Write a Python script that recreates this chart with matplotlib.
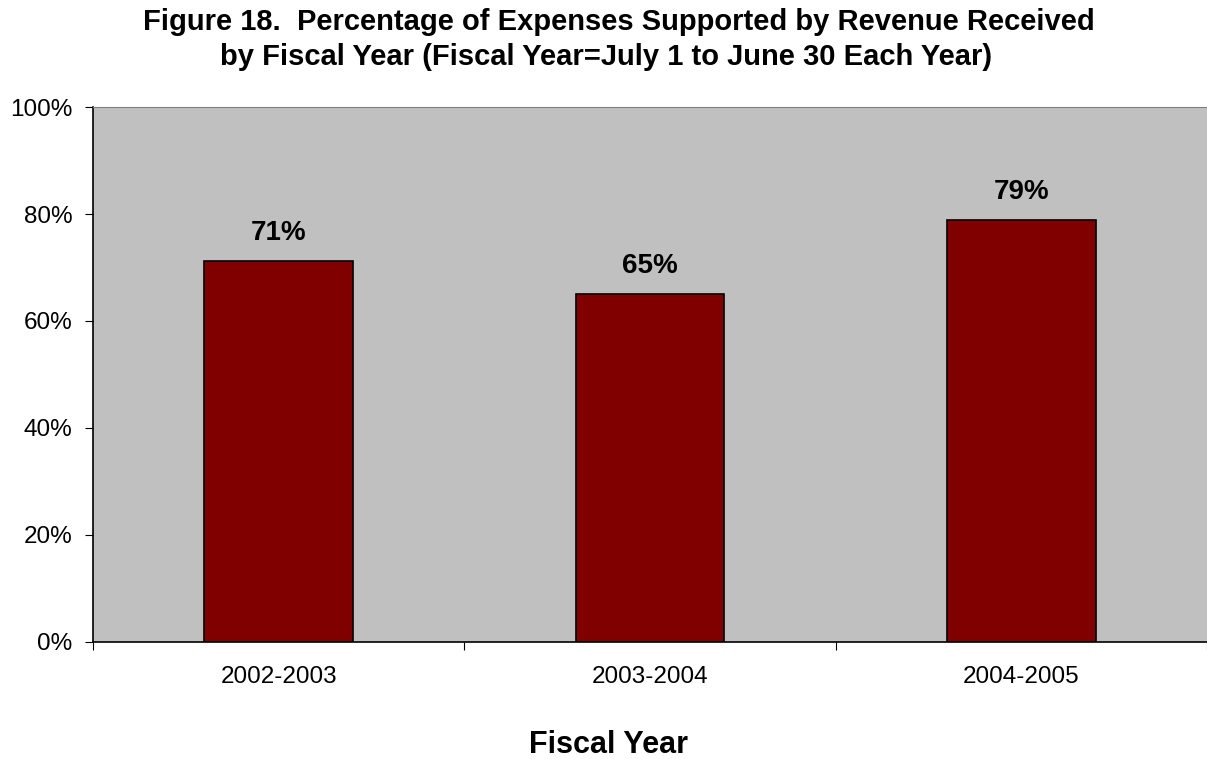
import matplotlib.pyplot as plt
from matplotlib.ticker import FuncFormatter

plt.rcParams['font.family'] = ['Liberation Sans', 'DejaVu Sans']

years = ["2002-2003", "2003-2004", "2004-2005"]
pct = [71.2, 65.0, 78.9]
labels = ["71%", "65%", "79%"]

fig = plt.figure(figsize=(12.07, 7.59), dpi=100)
ax = fig.add_axes([0.0771, 0.1542, 0.9229, 0.7048])
ax.set_facecolor("#c0c0c0")

x = range(len(years))
bars = ax.bar(x, pct, width=0.4, color="#800000", edgecolor="black", linewidth=1.2)

for b, lab in zip(bars, labels):
    ax.text(b.get_x() + b.get_width() / 2, b.get_height() + 3.9, lab,
            ha="center", va="baseline", fontsize=20, fontweight="bold")

ax.set_xlim(-0.5, 2.5)
ax.set_ylim(0, 100)
ax.set_yticks([0, 20, 40, 60, 80, 100])
ax.yaxis.set_major_formatter(FuncFormatter(lambda v, p: f"{v:.0f}%"))
ax.set_xticks([-0.5, 0.5, 1.5, 2.5])
ax.set_xticklabels([])
ax.set_xticks(list(x), minor=True)
ax.set_xticklabels(years, minor=True)
ax.tick_params(axis="x", which="minor", length=0, pad=17, labelsize=17.5)
ax.tick_params(axis="x", which="major", length=6, direction="out")
ax.tick_params(axis="y", length=6, direction="out", labelsize=17.5, pad=9)

ax.spines["top"].set_color("#808080")
ax.spines["right"].set_visible(False)
ax.spines["left"].set_linewidth(1.2)
ax.spines["bottom"].set_linewidth(1.2)

fig.text(0.513, 1 - 30 / 759, "Figure 18.  Percentage of Expenses Supported by Revenue Received",
         ha="center", va="baseline", fontsize=21, fontweight="bold")
fig.text(0.502, 1 - 65 / 759, "by Fiscal Year (Fiscal Year=July 1 to June 30 Each Year)",
         ha="center", va="baseline", fontsize=21, fontweight="bold")
fig.text(0.504, 1 - 753 / 759, "Fiscal Year", ha="center", va="baseline",
         fontsize=22, fontweight="bold")

fig.savefig("out.png", dpi=100)
